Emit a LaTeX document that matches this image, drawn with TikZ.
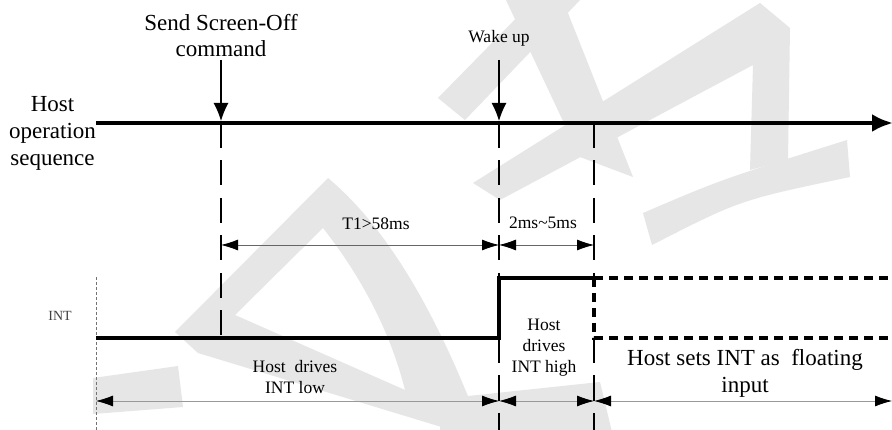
\documentclass[tikz,border=0pt]{standalone}
\usepackage{fontspec}
\setmainfont{Liberation Serif}
\usetikzlibrary{arrows.meta}
\definecolor{wm}{HTML}{E6E6E6}
\begin{document}
\begin{tikzpicture}[x=1pt,y=-1pt,
  thickln/.style={line width=4pt},
  dotln/.style={line width=4pt, dash pattern=on 9pt off 6pt},
  guide/.style={line width=1.3pt, dash pattern=on 25pt off 12.5pt},
  dimtop/.style={line width=0.8pt, black!60, {Latex[length=17pt,width=11pt,color=black]}-{Latex[length=17pt,width=11pt,color=black]}},
  dimbot/.style={line width=0.8pt, black!40, {Latex[length=17pt,width=11pt,color=black]}-{Latex[length=17pt,width=11pt,color=black]}},
  cmd/.style={line width=1.2pt, -{Latex[length=18pt,width=15pt]}},
  lbl/.style={inner sep=0pt, anchor=base},
  big/.style={font=\fontsize{23}{26}\selectfont},
  mid/.style={font=\fontsize{17.5}{21}\selectfont},
  small/.style={font=\fontsize{14}{17}\selectfont, text=black!75},
]
\useasboundingbox (0,0) rectangle (892,430);
\fill[white] (0,0) rectangle (892,430);
\begin{scope}
\clip (0,0) rectangle (892,430);
% watermark
\fill[wm, even odd rule] (175,332) -- (328,178) .. controls (390,230) and (440,320) .. (482,432) -- (458,432) -- (198,353) -- cycle
  (235,315) -- (323,228) .. controls (360,275) and (390,330) .. (405,390) -- cycle;
\fill[wm] (93,378) -- (178,366) -- (183,407) -- (93,414) -- cycle;
\fill[wm] (440,399) -- (600,382) -- (612,432) -- (440,432) -- cycle;
\fill[wm] (438,98) -- (536,-2) -- (582,-2) -- (465,120) -- cycle;
\fill[wm] (505,-2) -- (562,-2) -- (633,177) -- (580,157) -- cycle;
\fill[wm] (473,183) -- (760,3) -- (790,28) -- (788,160) -- (750,170) -- (753,65) -- (500,200) -- cycle;
\fill[wm] (643,213) .. controls (720,180) .. (847,140) -- (850,177) .. controls (740,200) .. (652,245) -- cycle;
\end{scope}

% coordinates
\coordinate (hs) at (96,123);
\coordinate (he) at (893,123);
\coordinate (xa) at (221,123);
\coordinate (xb) at (499,123);
\coordinate (xc) at (594,123);
\coordinate (atop) at (221,60);
\coordinate (atip) at (221,121);
\coordinate (btop) at (499,60);
\coordinate (btip) at (499,121);
\coordinate (alow) at (221,338);
\coordinate (lowS) at (96,338);
\coordinate (lowE) at (499,338);
\coordinate (highS) at (499,278);
\coordinate (highE) at (594,278);
\coordinate (flH) at (892,278);
\coordinate (flV) at (594,338);
\coordinate (flL) at (892,338);
\coordinate (bEnd) at (499,430);
\coordinate (cEnd) at (594,430);
\coordinate (dS) at (96,277);
\coordinate (dE) at (96,430);
\coordinate (t1a) at (221,245);
\coordinate (t1b) at (499,245);
\coordinate (t2b) at (594,245);
\coordinate (d1a) at (96,401);
\coordinate (d1b) at (499,401);
\coordinate (d2b) at (594,401);
\coordinate (d3b) at (892,401);

% guide dashed lines
\draw[guide] (xa) -- (alow);
\draw[guide] (xb) -- (highS);
\draw[guide] (lowE) -- (bEnd);
\draw[guide] (xc) -- (highE);
\draw[guide] (flV) -- (cEnd);
\draw[black!55, line width=0.7pt, dash pattern=on 3pt off 2pt] (dS) -- (dE);

% host operation line
\draw[thickln, -{Latex[length=21pt,width=18pt]}] (hs) -- (he);
\draw[cmd] (atop) -- (atip);
\draw[cmd] (btop) -- (btip);

% INT signal
\draw[thickln] (lowS) -- (lowE) -- (highS) -- (highE);
\draw[dotln] (highE) -- (flH);
\draw[dotln] (highE) -- (flV) -- (flL);

% dimension lines
\draw[dimtop] (t1a) -- (t1b);
\draw[dimtop] (t1b) -- (t2b);
\draw[dimbot] (d1a) -- (d1b);
\draw[dimbot] (d1b) -- (d2b);
\draw[dimbot] (d2b) -- (d3b);

% labels
\node[lbl,big] (send) at (221,31) {Send Screen-Off};
\node[lbl,big] (cmdt) at (221,57) {command};
\node[lbl,big] (h1) at (52.5,112) {Host};
\node[lbl,big] (h2) at (52.5,139) {operation};
\node[lbl,big] (h3) at (52.5,166) {sequence};
\node[lbl,mid] (wake) at (499,43) {Wake up};
\node[lbl,mid] (t1) at (376,230) {T1>58ms};
\node[lbl,mid] (t2) at (543,229) {2ms\char"7E 5ms};
\node[lbl,small] (int) at (60,321) {INT};
\node[lbl,mid] (lo1) at (295,373) {Host~~drives};
\node[lbl,mid] (lo2) at (295,394) {INT low};
\node[lbl,mid] (hi1) at (544,331) {Host};
\node[lbl,mid] (hi2) at (544,352) {drives};
\node[lbl,mid] (hi3) at (544,373) {INT high};
\node[lbl,big] (fl1) at (745,366) {Host sets INT as~~floating};
\node[lbl,big] (fl2) at (745,392) {input};
\end{tikzpicture}
\end{document}
